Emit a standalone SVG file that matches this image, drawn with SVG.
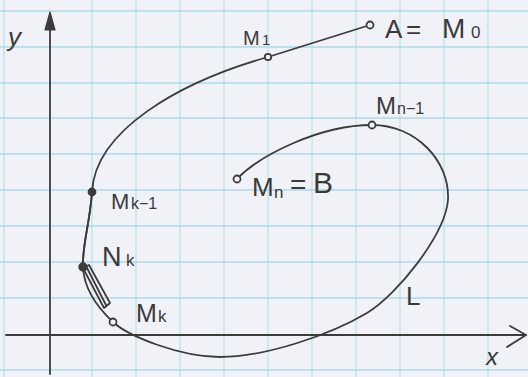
<svg xmlns="http://www.w3.org/2000/svg" width="528" height="377" viewBox="0 0 528 377">
  <style>
    .grid line { stroke: #a9dbe8; stroke-width: 1.6; }
    .gv line { stroke: #bfe3ee; stroke-width: 1.4; }
    .ink { stroke: #3c3c3c; stroke-width: 1.8; fill: none; stroke-linecap: round; stroke-linejoin: round; }
    .pt { stroke: #3c3c3c; stroke-width: 1.8; fill: #f4f4f8; }
    .ptf { stroke: #3c3c3c; stroke-width: 1.8; fill: #3c3c3c; }
    text { font-family: "Liberation Sans", Arial, sans-serif; fill: #3a3a3a; }
  </style>
  <rect x="0" y="0" width="528" height="377" fill="#f1f1f8"/>
  <g class="gv">
    <line x1="4" y1="0" x2="4" y2="377"/>
    <line x1="92" y1="0" x2="92" y2="377"/>
    <line x1="136" y1="0" x2="136" y2="377"/>
    <line x1="180" y1="0" x2="180" y2="377"/>
    <line x1="224" y1="0" x2="224" y2="377"/>
    <line x1="268" y1="0" x2="268" y2="377"/>
    <line x1="312" y1="0" x2="312" y2="377"/>
    <line x1="356" y1="0" x2="356" y2="377"/>
    <line x1="400" y1="0" x2="400" y2="377"/>
    <line x1="444" y1="0" x2="444" y2="377"/>
    <line x1="488" y1="0" x2="488" y2="377"/>
  </g>
  <g class="grid">
    <line x1="0" y1="11" x2="528" y2="11"/>
    <line x1="0" y1="47" x2="528" y2="47"/>
    <line x1="0" y1="83" x2="528" y2="83"/>
    <line x1="0" y1="118" x2="528" y2="118"/>
    <line x1="0" y1="154" x2="528" y2="154"/>
    <line x1="0" y1="190" x2="528" y2="190"/>
    <line x1="0" y1="226" x2="528" y2="226"/>
    <line x1="0" y1="262" x2="528" y2="262"/>
    <line x1="0" y1="298" x2="528" y2="298"/>
    <line x1="0" y1="370" x2="528" y2="370"/>
  </g>

  <g id="axes">
    <line class="ink" x1="50" y1="374" x2="50" y2="22"/>
    <polygon points="50,12 45,30 55,30" fill="#3c3c3c" stroke="#3c3c3c" stroke-width="1.2" stroke-linejoin="round"/>
    <line class="ink" x1="6" y1="335" x2="526" y2="335"/>
    <polyline class="ink" points="510,326 526,335 507,347"/>
    <text x="8" y="46" font-size="26" font-style="italic">y</text>
    <text x="486" y="365" font-size="24" font-style="italic">x</text>
  </g>

  <g id="connectors">
    <path id="curve-L" class="ink" d="M370,25 L268,57 C180,82 95,130 92,192 C90,223 82,245 83,267 C84,290 98,308 113,322 C128,336 180,357 220,357 C265,357 330,335 367,313 C397,295 445,235 448,200 C450,160 415,125 372,125 C320,125 260,155 237,179"/>
    <path class="ink" stroke-width="3.2" d="M92,192 C90,223 82,245 83,267"/>
    <polygon class="ink" stroke-width="1.5" points="83,268 89,265 110,303 104,308"/>
    <line class="ink" stroke-width="1.3" x1="87" y1="268" x2="106" y2="305"/>
  </g>

  <g id="node-A">
    <circle class="pt" cx="370" cy="25" r="3.5"/>
    <text y="38" font-size="26"><tspan x="385">A</tspan><tspan x="406">=</tspan><tspan x="442" font-size="28">M</tspan><tspan x="471" font-size="17">0</tspan></text>
  </g>
  <g id="node-M1">
    <circle class="pt" cx="268" cy="57" r="3.2"/>
    <text x="243" y="45" font-size="20">M<tspan x="262" font-size="15">1</tspan></text>
  </g>
  <g id="node-Mn-1">
    <circle class="pt" cx="372" cy="125" r="3.5"/>
    <text x="376" y="114" font-size="24">M<tspan x="397" font-size="16">n−1</tspan></text>
  </g>
  <g id="node-Mn">
    <circle class="pt" cx="237" cy="179" r="3.5"/>
    <text y="196" font-size="26"><tspan x="252">M</tspan><tspan x="274" font-size="17" dy="2">n</tspan><tspan x="290" dy="-4" font-size="28">=</tspan><tspan x="313" font-size="30" dy="-1">B</tspan></text>
  </g>
  <g id="node-Mk-1">
    <circle class="ptf" cx="92" cy="192" r="3.5"/>
    <text x="111" y="209" font-size="22">M<tspan x="131" font-size="16">k−1</tspan></text>
  </g>
  <g id="node-Nk">
    <circle class="ptf" cx="83" cy="267" r="3.8"/>
    <text x="102" y="266" font-size="27">N<tspan x="126" font-size="17">k</tspan></text>
  </g>
  <g id="node-Mk">
    <circle class="pt" cx="113" cy="322" r="3.5"/>
    <text x="136" y="322" font-size="25">M<tspan x="158" font-size="17">k</tspan></text>
  </g>
  <g id="label-L">
    <text x="406" y="305" font-size="26">L</text>
  </g>
</svg>
